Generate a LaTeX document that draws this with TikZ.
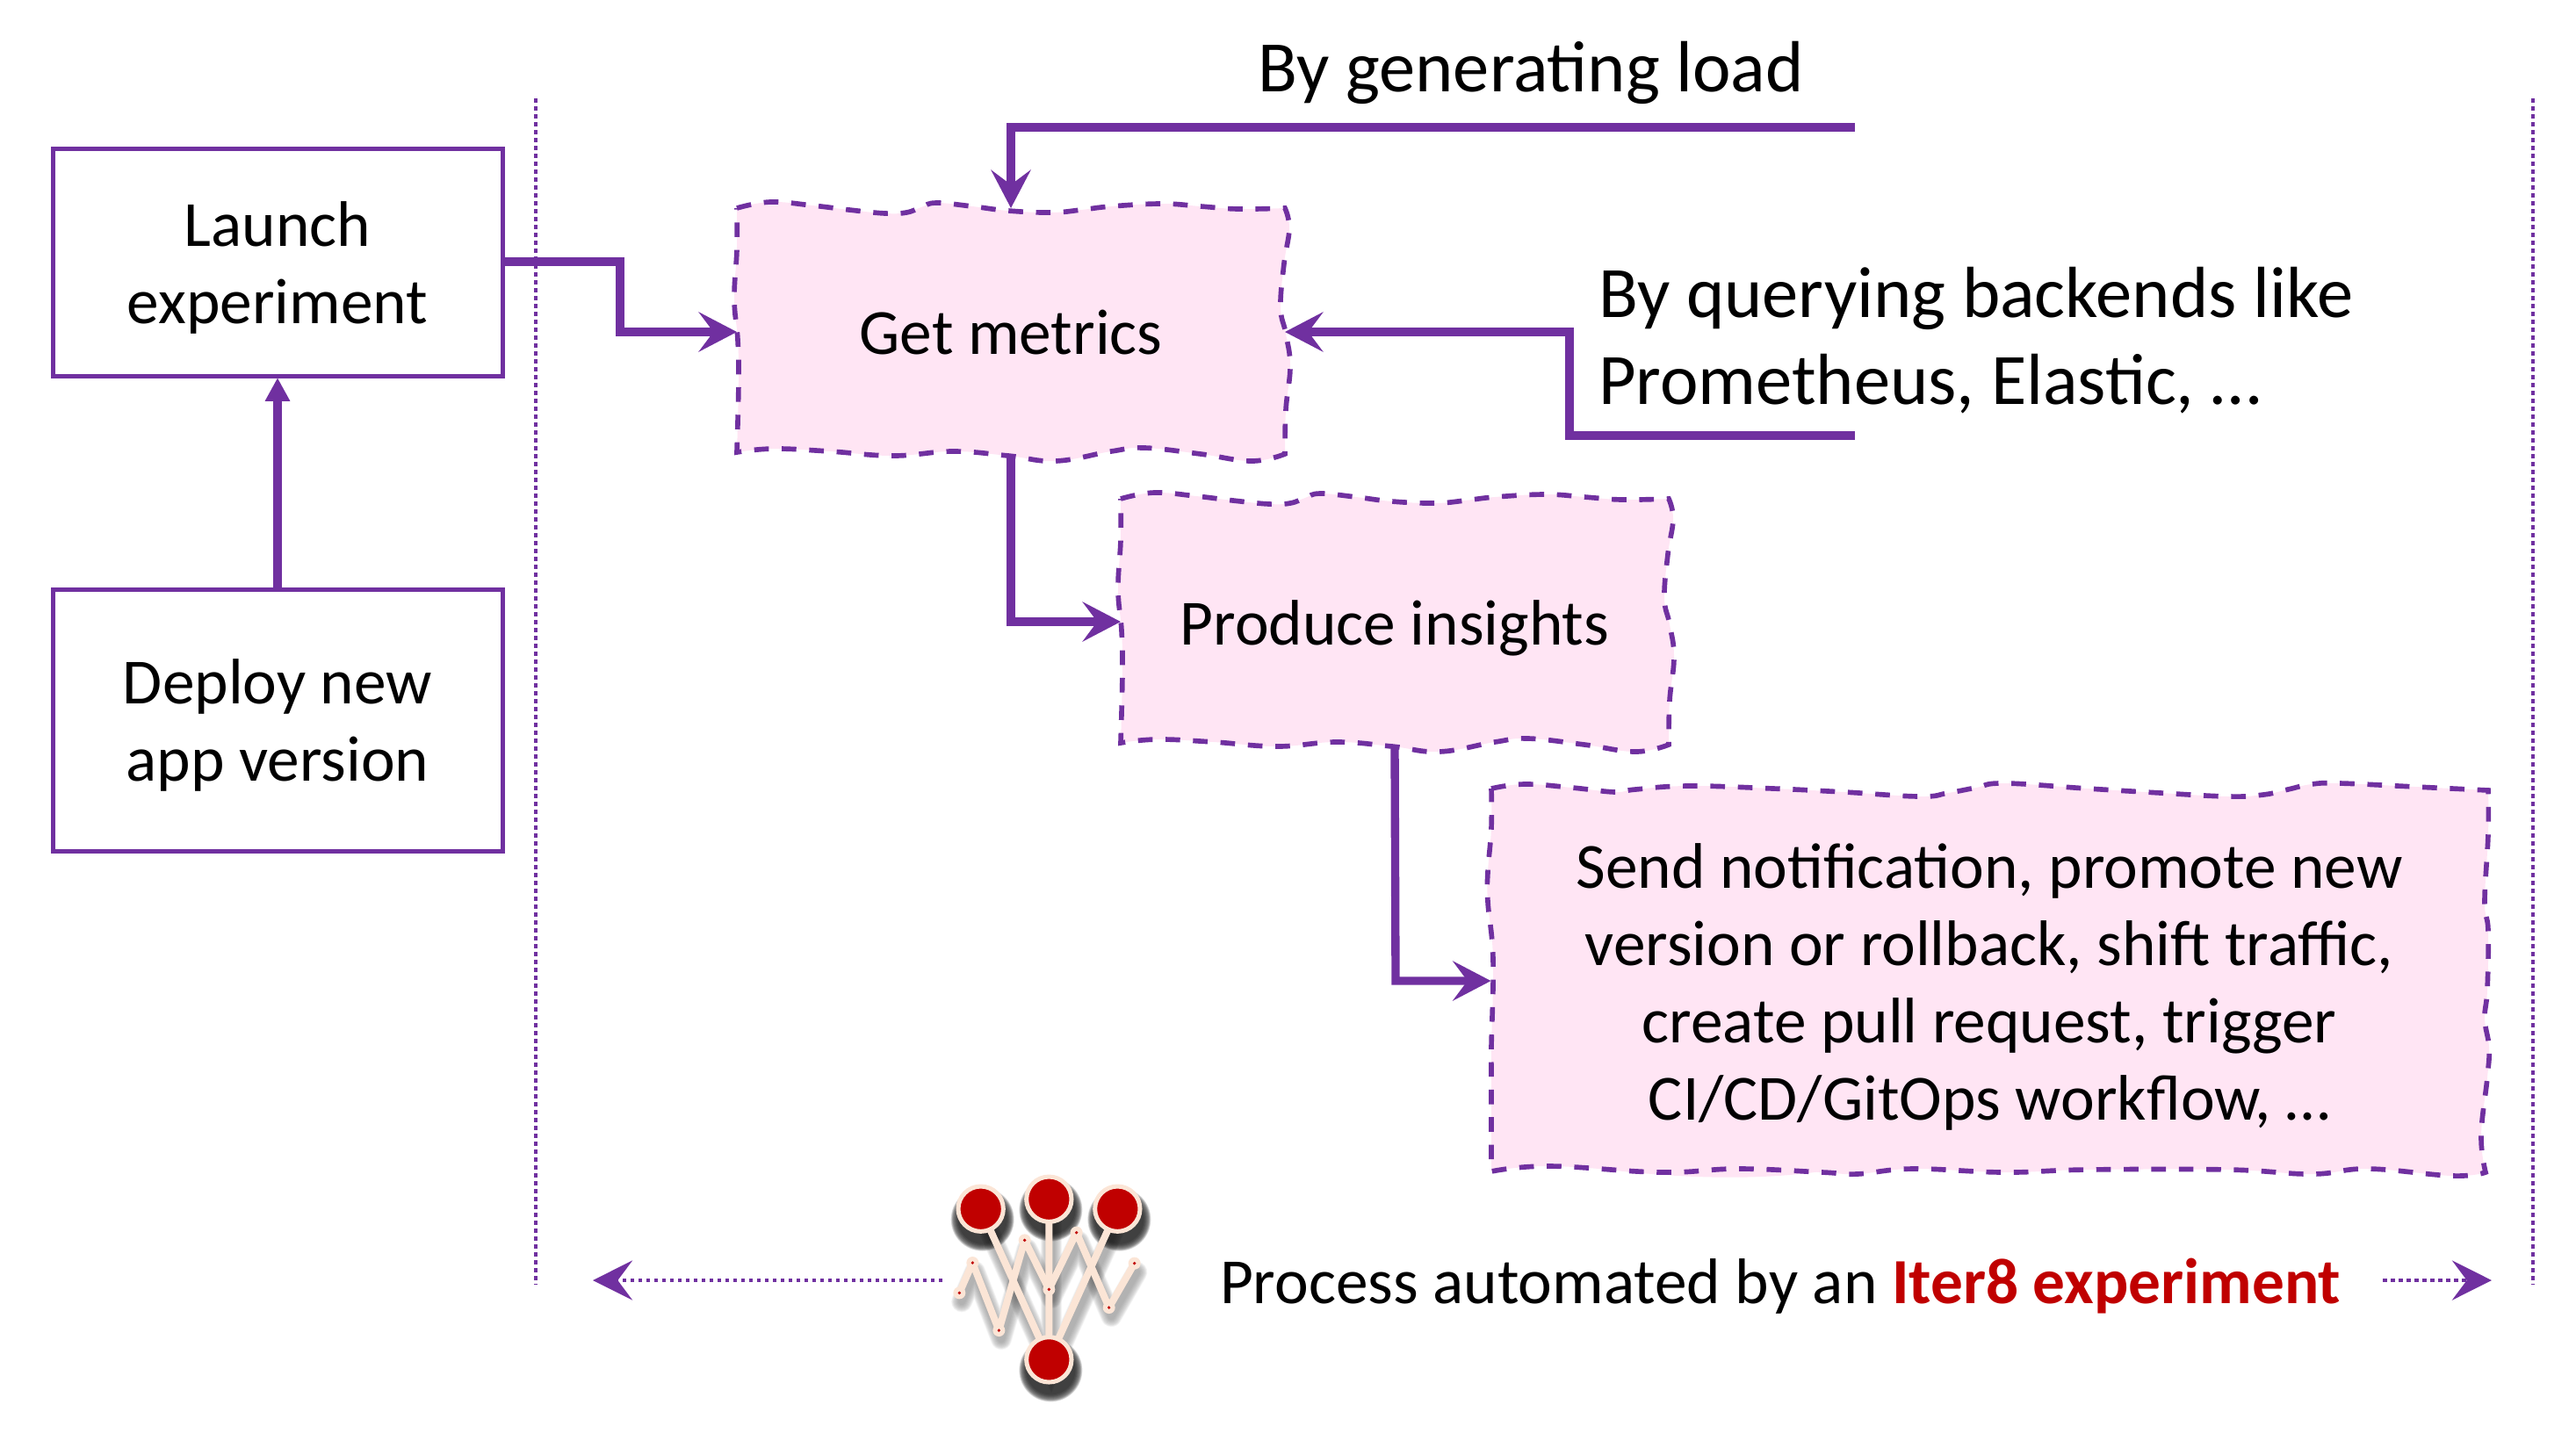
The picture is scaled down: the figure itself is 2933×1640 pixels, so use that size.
\documentclass[tikz,border=0pt]{standalone}
\usepackage{fontspec}
\setmainfont{Carlito}
\usetikzlibrary{arrows.meta,calc}
\definecolor{iterpurple}{HTML}{7030A0}
\definecolor{iterpink}{HTML}{FFE5F4}
\definecolor{iterred}{HTML}{C00000}
\definecolor{iterpeach}{HTML}{FBE5D6}
\newcommand{\rawavy}{%
  plot[smooth,tension=0.7] coordinates {(0,0) (38,-7) (86,-3) (128,2) (169,6) (193,5) (210,-1) (227,-6) (268,-2) (309,3) (358,5) (392,2) (426,-2) (484,-5) (528,-2) (571,1) (624,0)}
  -- plot[smooth,tension=0.7] coordinates {(624,0) (629,23) (623,63) (619,113) (625,143) (630,180) (625,230) (624,280)}
  -- plot[smooth,tension=0.7] coordinates {(624,280) (586,288) (528,280) (464,273) (426,277) (363,288) (309,282) (246,277) (178,282) (106,277) (42,274) (0,278)}
  -- plot[smooth,tension=0.7] coordinates {(0,278) (2,197) (1,150) (-3,103) (0,47) (0,0)} -- cycle}
% text raised or lowered inside its box without moving the box itself
\newcommand{\nudged}[2]{\raisebox{-#1}[\height][\depth]{\begin{tabular}{@{}c@{}}#2\end{tabular}}}
\tikzset{
  x=0.3pt,y=-0.3pt,
  every node/.style={inner sep=0pt,outer sep=0pt,text=black},
  bodytext/.style={font=\fontsize{22}{26.4}\selectfont},
  bigtext/.style={font=\fontsize{24.75}{29.7}\selectfont,align=left},
  plainbox/.style={draw=iterpurple,line width=1.5pt,fill=white,bodytext},
  wavyline/.style={draw=iterpurple,fill=iterpink,line width=1.7pt,dash pattern=on 5pt off 4.4pt,line join=miter},
  conn/.style={draw=iterpurple,line width=2.8pt,line join=miter,-{Stealth[length=13pt,width=13.5pt,inset=5pt]}},
  solidconn/.style={draw=iterpurple,line width=2.8pt,-{Triangle[length=8pt,width=8pt]}},
  divider/.style={draw=iterpurple,line width=1.4pt,dash pattern=on 1.35pt off 1.35pt},
  dotconn/.style={draw=iterpurple,line width=1.4pt,dash pattern=on 1.35pt off 1.35pt,-{Stealth[length=13.5pt,width=13.5pt,inset=5pt]}},
  logoline/.style={draw=iterpeach,line width=2.4pt},
}
\begin{document}
\begin{tikzpicture}
\useasboundingbox (0,0) rectangle (2933,1640);
% dividers
\coordinate (dlA) at (610,112); \coordinate (dlB) at (610,1463);
\coordinate (drA) at (2884,112); \coordinate (drB) at (2884,1463);
\draw[divider] (dlA) -- (dlB);
\draw[divider] (drA) -- (drB);
% wavy boxes
\draw[wavyline,shift={(839,237)}] \rawavy;
\draw[wavyline,shift={(1276,568)}] \rawavy;
\fill[iterpink] (1815,1330) .. controls (1930,1345) and (2040,1345) .. (2120,1325) -- cycle;
\draw[wavyline] plot[smooth,tension=0.7] coordinates {(1698,898) (1736,893) (1790,897) (1839,902) (1862,899) (1923,895) (2019,898) (2100,902) (2186,907) (2218,903) (2250,897) (2282,892) (2377,898) (2460,903) (2537,907) (2577,905) (2605,899) (2632,893) (2664,892) (2750,896) (2833,900)}
 -- plot[smooth,tension=0.7] coordinates {(2833,900) (2833,950) (2829,1027) (2833,1060) (2832,1127) (2829,1160) (2834,1193) (2832,1227) (2825,1293) (2830,1335)}
 -- plot[smooth,tension=0.7] coordinates {(2830,1335) (2792,1339) (2696,1331) (2632,1337) (2537,1332) (2377,1332) (2282,1335) (2178,1331) (2114,1337) (2075,1335) (1979,1331) (1891,1335) (1764,1328) (1698,1334)}
 -- plot[smooth,tension=0.7] coordinates {(1698,1334) (1698,1227) (1698,1193) (1700,1093) (1694,1027) (1694,993) (1698,943) (1698,898)} -- cycle;
% nodes
\node[plainbox,minimum width=153.6pt,minimum height=77.6pt] (launch) at (316,298.75) {\nudged{2.3pt}{Launch\\experiment}};
\node[plainbox,minimum width=153.6pt,minimum height=89.5pt] (deploy) at (316,820.25) {\nudged{2.3pt}{Deploy new\\app version}};
\node[bodytext,minimum width=187.2pt,minimum height=84pt] (gm) at (1151,377) {\nudged{2.8pt}{Get metrics}};
\node[bodytext,minimum width=187.2pt,minimum height=84pt] (pi) at (1588,708) {\nudged{2.7pt}{Produce insights}};
\node[bodytext,minimum width=340.5pt,minimum height=130.5pt] (act) at (2265,1115.5) {\nudged{3.1pt}{Send notification, promote new\\version or rollback, shift traffic,\\create pull request, trigger\\CI/CD/GitOps workflow, …}};
\node[bigtext,anchor=center] (load) at (1743,83) {By generating load};
\node[bigtext,anchor=west] (query) at (1820,388) {By querying backends like\\Prometheus, Elastic, …};
\node[bodytext,anchor=west] (proc) at (1389,1465) {Process automated by an \textcolor{iterred}{\textbf{Iter8 experiment}}};
% connectors
\coordinate (b1) at (706,378);
\draw[conn] (launch.east |- 0,298) -- (b1 |- 0,298) -- (b1) -- (gm.west |- b1);
\draw[solidconn] (deploy.north) -- ($(launch.south)+(0,2)$);
\coordinate (lA) at (2112,145); \coordinate (qA) at (2112,496); \coordinate (qB) at (1787,378);
\draw[conn] (lA) -- (gm.north |- lA) -- (gm.north);
\draw[conn] (qA) -- (qB |- qA) -- (qB) -- (gm.east |- qB);
\coordinate (b2) at (1151,708);
\draw[conn] (gm.south) -- (b2) -- (pi.west);
\coordinate (b3) at (1589,1117);
\draw[conn] (pi.south) -- (b3) -- (act.west |- b3);
% bottom dotted arrows
\coordinate (da) at (1073,1458); \coordinate (dat) at (675,1458);
\coordinate (db) at (2713,1458); \coordinate (dbt) at (2837,1458);
\draw[dotconn] (da) -- (dat);
\draw[dotconn] (db) -- (dbt);
% logo: origin at (1040,1310), third of a zoomed pixel
\begin{scope}[shift={(1040,1310)},x=0.1pt,y=-0.1pt]
  \foreach \w in {24,22,20,18,16,13,10,7,4,0}{
    \begin{scope}[shift={(6,36)},black,opacity=0.13]
      \fill (230,200) circle[radius=1pt*8.4+\w*0.1pt];
      \fill (463,167) circle[radius=1pt*8.4+\w*0.1pt];
      \fill (697,200) circle[radius=1pt*8.4+\w*0.1pt];
      \fill (463,715) circle[radius=1pt*8.4+\w*0.1pt];
    \end{scope}
    \begin{scope}[shift={(8,30)},opacity=0.035]
      \draw[black,line width=2.4pt+\w*0.2pt,line join=round,line cap=round] (157,487) -- (202,384) -- (292,615) -- (380,307) -- (463,475) -- (557,281) -- (668,537) -- (755,386);
      \draw[black,line width=2.4pt+\w*0.2pt] (230,200) -- (463,715) -- (697,200) (463,167) -- (463,715);
    \end{scope}
  }
  \draw[logoline,line join=round] (157,487) -- (202,384) -- (292,615) -- (380,307) -- (463,475) -- (557,281) -- (668,537) -- (755,386);
  \draw[logoline] (230,200) -- (463,715) -- (697,200) (463,167) -- (463,715);
  \foreach \p in {(230,200),(463,167),(697,200),(463,715)}
    \filldraw[fill=iterred,draw=iterpeach,line width=1.5pt] \p circle[radius=7.7pt];
  \foreach \p in {(157,487),(202,384),(292,615),(380,307),(463,475),(557,281),(668,537),(755,386)}{
    \fill[iterpeach] \p circle[radius=2.1pt];
    \fill[iterred] \p circle[radius=0.55pt];
  }
\end{scope}
\end{tikzpicture}
\end{document}
